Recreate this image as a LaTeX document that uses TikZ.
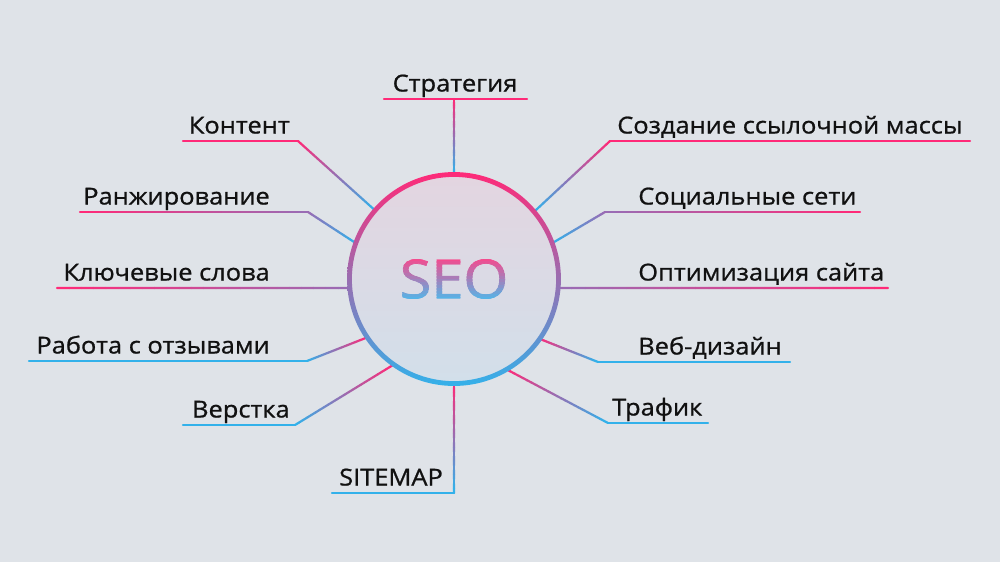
\documentclass[tikz,border=0pt]{standalone}
\usepackage{fontspec}
\setmainfont{Open Sans}[FakeStretch=1.09, FakeBold=0.9]
\newfontfamily\seofont{Open Sans}[FakeStretch=1.08, FakeBold=1.3]
\usetikzlibrary{calc}
\definecolor{bg}{HTML}{DFE3E8}
\definecolor{pk}{HTML}{FF2A78}
\definecolor{bl}{HTML}{33B1EA}
\definecolor{pu}{HTML}{9A6CB4}
\definecolor{ink}{HTML}{111111}
\definecolor{fillTop}{HTML}{E3D5E0}
\definecolor{fillBot}{HTML}{D2DFEA}
\tikzset{
  conn/.style={line width=1.65pt, line cap=round},
  lbl/.style={text=ink, font=\fontsize{17.5pt}{20pt}\selectfont, inner sep=0pt},
  seotxt/.style={font=\seofont\fontsize{40pt}{44pt}\selectfont, inner sep=0pt},
}
% gradient connector: from #1 to #2, colour #3 to #4
\newcommand\gline[4]{%
  \foreach \i in {0,...,23}{%
    \pgfmathsetmacro\pa{\i/24}%
    \pgfmathsetmacro\pb{(\i+1)/24}%
    \pgfmathtruncatemacro\pc{100-\i*100/23}%
    \draw[conn, color=#3!\pc!#4] ($(#1)!\pa!(#2)$) -- ($(#1)!\pb!(#2)$);
  }%
}
\begin{document}
\begin{tikzpicture}[x=0.75pt,y=-0.75pt]
\fill[bg] (0,0) rectangle (1000,562);
\useasboundingbox (0,0) rectangle (1000,562);

\node[circle, minimum size=156pt, inner sep=0pt, outer sep=0pt] (seo) at (454,279) {};

% corner coordinates
\coordinate (sA) at (384,99);  \coordinate (sB) at (527,99);  \coordinate (sC) at (454,99);
\coordinate (kA) at (183,141); \coordinate (kB) at (298,141);
\coordinate (rA) at (80,212);  \coordinate (rB) at (308,212);
\coordinate (wA) at (57,288);
\coordinate (oA) at (29,361);  \coordinate (oB) at (307,361);
\coordinate (vA) at (183,425); \coordinate (vB) at (295,425);
\coordinate (mA) at (454,493); \coordinate (mB) at (332,493);
\coordinate (cA) at (970,141); \coordinate (cB) at (610,141);
\coordinate (nA) at (860,212); \coordinate (nB) at (605,212);
\coordinate (pA) at (888,288);
\coordinate (dA) at (598,362); \coordinate (dB) at (790,362);
\coordinate (tA) at (608,423); \coordinate (tB) at (708,423);

% connectors
\draw[conn, pk] (sA) -- (sB);            \gline{sC}{seo.90}{pk}{bl}
\draw[conn, pk] (kA) -- (kB);            \gline{kB}{seo.139}{pk}{bl}
\gline{rA}{rB}{pk}{pu}                   \gline{rB}{seo.160}{pu}{bl}
\gline{wA}{seo.185}{pk}{pu}
\draw[conn, bl] (oA) -- (oB);            \gline{oB}{seo.214}{bl}{pk}
\draw[conn, bl] (vA) -- (vB);            \gline{vB}{seo.235}{bl}{pk}
\gline{seo.270}{mA}{pk}{bl}              \draw[conn, bl] (mA) -- (mB);
\draw[conn, pk] (cA) -- (cB);            \gline{cB}{seo.40}{pk}{bl}
\gline{nA}{nB}{pk}{pu}                   \gline{nB}{seo.20}{pu}{bl}
\gline{pA}{seo.355}{pk}{pu}
\gline{seo.325}{dA}{pk}{bl}              \draw[conn, bl] (dA) -- (dB);
\gline{seo.300}{tA}{pk}{bl}              \draw[conn, bl] (tA) -- (tB);

% central circle
\shade[top color=fillTop, bottom color=fillBot] (seo.center) circle (78pt);
\shade[top color=pk, middle color=pk!45!bl!85!pu, bottom color=bl, even odd rule]
  (seo.center) circle (80.2pt) (seo.center) circle (76.6pt);

% gradient SEO text
\foreach \j in {0,...,15}{%
  \pgfmathsetmacro\ya{256+\j*3}%
  \pgfmathsetmacro\yb{256+(\j+1)*3}%
  \pgfmathtruncatemacro\pq{100-\j*100/15}%
  \begin{scope}
    \clip (370,\ya-0.4) rectangle (540,\yb+0.4);
    \node[seotxt, text=pk!\pq!bl!88!white] at (454,279) {SEO};
  \end{scope}
}

% labels
\node[lbl, anchor=base] (tStrat) at (455,91.5) {Стратегия};
\node[lbl, anchor=base east] (tKont) at (290,133.5) {Контент};
\node[lbl, anchor=base east] (tRank) at (270,204.5) {Ранжирование};
\node[lbl, anchor=base east] (tKey) at (270,280.5) {Ключевые слова};
\node[lbl, anchor=base east] (tRev) at (270,353.5) {Работа с отзывами};
\node[lbl, anchor=base east] (tVer) at (290,417.5) {Верстка};
\node[lbl, anchor=base] (tMap) at (391,485.5) {SITEMAP};
\node[lbl, anchor=base west] (tLink) at (617,133.5) {Создание ссылочной массы};
\node[lbl, anchor=base west] (tSoc) at (638,204.5) {Социальные сети};
\node[lbl, anchor=base west] (tOpt) at (638,280.5) {Оптимизация сайта};
\node[lbl, anchor=base west] (tWeb) at (638,354.5) {Веб-дизайн};
\node[lbl, anchor=base west] (tTraf) at (612,415.5) {Трафик};
\end{tikzpicture}
\end{document}
